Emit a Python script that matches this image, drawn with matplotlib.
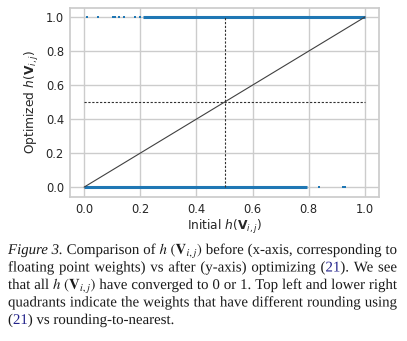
import numpy as np
import matplotlib
matplotlib.use('Agg')
import matplotlib.pyplot as plt
import seaborn as sns
from matplotlib.font_manager import FontProperties
from matplotlib.patches import PathPatch
from matplotlib.textpath import TextPath
from matplotlib.transforms import Affine2D

# rounded values after optimisation: dense runs (x ranges) and stray points
top_runs = [(0.211, 1.0)]
top_points_x = [0.012, 0.049, 0.102, 0.106, 0.11, 0.125, 0.142, 0.181, 0.198]
bottom_runs = [(0.0, 0.792)]
bottom_points_x = [0.836, 0.922, 0.928]

ticks = [0.0, 0.2, 0.4, 0.6, 0.8, 1.0]
tick_labels = ['0.0', '0.2', '0.4', '0.6', '0.8', '1.0']

BLUE = '#1f77b4'
REF = '#22228a'
HV = r'$h\ (\mathbf{V}_{i,j})$'

# caption: each line is a list of words, each word a list of (text, colour, style)
caption = [
    [[('Figure 3.', 'k', 'italic')], [('Comparison', 'k', 'normal')], [('of', 'k', 'normal')],
     [(HV, 'k', 'normal')], [('before', 'k', 'normal')], [('(x-axis,', 'k', 'normal')],
     [('corresponding', 'k', 'normal')], [('to', 'k', 'normal')]],
    [[('floating', 'k', 'normal')], [('point', 'k', 'normal')], [('weights)', 'k', 'normal')], [('vs', 'k', 'normal')],
     [('after', 'k', 'normal')], [('(y-axis)', 'k', 'normal')], [('optimizing', 'k', 'normal')],
     [('(', 'k', 'normal'), ('21', REF, 'normal'), (').', 'k', 'normal')], [('We', 'k', 'normal')], [('see', 'k', 'normal')]],
    [[('that', 'k', 'normal')], [('all', 'k', 'normal')], [(HV, 'k', 'normal')],
     [('have', 'k', 'normal')], [('converged', 'k', 'normal')], [('to', 'k', 'normal')], [('0', 'k', 'normal')],
     [('or', 'k', 'normal')], [('1.', 'k', 'normal')], [('Top', 'k', 'normal')], [('left', 'k', 'normal')],
     [('and', 'k', 'normal')], [('lower', 'k', 'normal')], [('right', 'k', 'normal')]],
    [[('quadrants', 'k', 'normal')], [('indicate', 'k', 'normal')], [('the', 'k', 'normal')], [('weights', 'k', 'normal')],
     [('that', 'k', 'normal')], [('have', 'k', 'normal')], [('different', 'k', 'normal')], [('rounding', 'k', 'normal')],
     [('using', 'k', 'normal')]],
    [[('(', 'k', 'normal'), ('21', REF, 'normal'), (')', 'k', 'normal')], [('vs', 'k', 'normal')],
     [('rounding-to-nearest.', 'k', 'normal')]],
]

sns.set_theme(style='whitegrid')
plt.rcParams['font.family'] = ['DejaVu Sans']
plt.rcParams['mathtext.fontset'] = 'dejavusans'

W, H = 407, 341
fig = plt.figure(figsize=(W / 100, H / 100), dpi=100)
ax = fig.add_axes([69.5 / W, 1 - 197 / H, (379 - 69.5) / W, (197 - 7.5) / H])

for x0, x1 in top_runs:
    ax.hlines(1.0, x0, x1, color=BLUE, lw=2.2, zorder=3)
for x0, x1 in bottom_runs:
    ax.hlines(0.0, x0, x1, color=BLUE, lw=2.2, zorder=3)
ax.scatter(top_points_x, np.ones(len(top_points_x)), s=3, marker='s', color=BLUE, lw=0, zorder=3)
ax.scatter(bottom_points_x, np.zeros(len(bottom_points_x)), s=3, marker='s', color=BLUE, lw=0, zorder=3)

ax.plot([0, 1], [0, 1], color='#404040', lw=0.8, zorder=4)
ax.plot([0.5, 0.5], [0, 1], color='#303030', lw=0.8, ls=(0, (2, 1.5)), zorder=4)
ax.plot([0, 1], [0.5, 0.5], color='#303030', lw=0.8, ls=(0, (2, 1.5)), zorder=4)

ax.set_xlim(-0.052, 1.05)
ax.set_ylim(-0.058, 1.056)
ax.set_xticks(ticks)
ax.set_xticklabels(tick_labels, fontsize=8.3, color='#262626')
ax.set_yticks(ticks)
ax.set_yticklabels(tick_labels, fontsize=8.3, color='#262626')
ax.set_xlabel(r'Initial $h(\mathbf{V}_{i,j})$', fontsize=8.8, color='#262626', labelpad=2)
ax.set_ylabel(r'Optimized $h(\mathbf{V}_{i,j})$', fontsize=8.8, color='#262626', labelpad=3.5)
ax.tick_params(length=0, pad=4)

# justified caption below the plot, drawn as glyph outlines in pixel units
left, right = 8, 397
baselines = [254, 271.5, 289, 306.5, 324]
size_px = 10.7 * 100 / 72


def props(sty):
    return FontProperties(family='Liberation Serif', style=sty, math_fontfamily='stix')


def path_width(txt, sty):
    ext = TextPath((0, 0), txt, size=size_px, prop=props(sty)).get_extents()
    return ext.x1 - ext.x0


def advance(txt, sty):
    # bracket plain text with bars so the width is its advance, not its ink box
    if txt.startswith('$'):
        return path_width(txt, sty) + 1.0
    return path_width('|' + txt + '|', sty) - path_width('||', sty)


for i, line in enumerate(caption):
    y = H - baselines[i]
    widths = [[advance(txt, sty) for txt, col, sty in w] for w in line]
    totals = [sum(ws) for ws in widths]
    if i < len(caption) - 1:
        gap = (right - left - sum(totals)) / (len(line) - 1)
    else:
        gap = advance(' ', 'normal')
    x = left
    for word, ws, tot in zip(line, widths, totals):
        xx = x
        for (txt, col, sty), w in zip(word, ws):
            tp = TextPath((0, 0), txt, size=size_px, prop=props(sty))
            fig.add_artist(PathPatch(tp, transform=Affine2D().translate(xx, y),
                                     facecolor=col, edgecolor='none'))
            xx += w
        x += tot + gap

fig.savefig('out.png', dpi=100)
